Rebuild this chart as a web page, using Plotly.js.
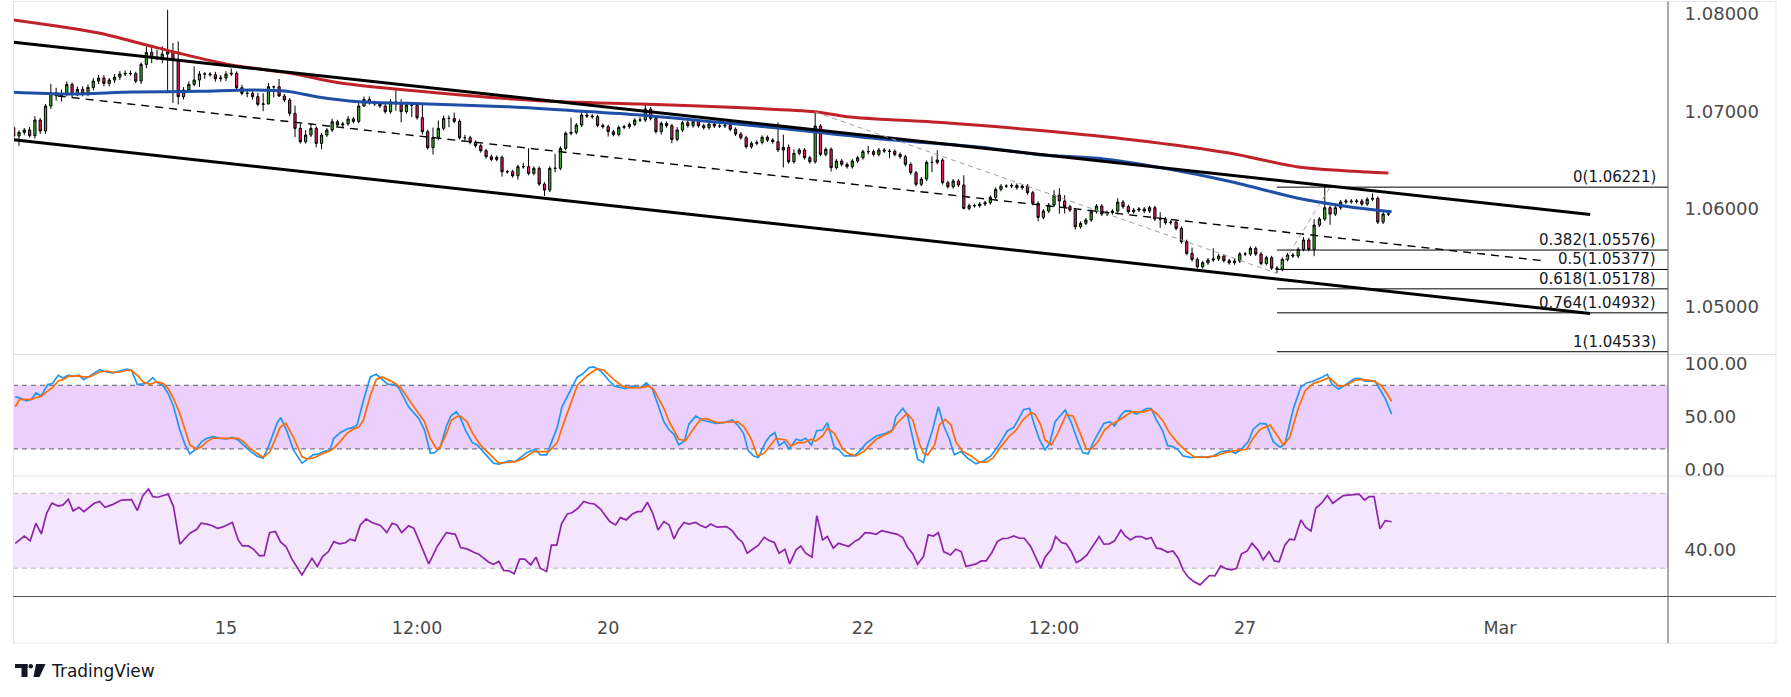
<!DOCTYPE html>
<html><head><meta charset="utf-8">
<script src="https://cdn.plot.ly/plotly-3.0.1.min.js"></script>
<style>html,body{margin:0;padding:0;background:#fff;}#chart{width:1791px;height:697px;}</style>
</head><body><div id="chart"></div>
<script>
// ---------------- DATA ----------------
// hourly EUR/USD candles, index 0 = "15" (Feb 15 00:00)
const firstIndex = -40;
const firstOpen = 1.06831;
const closes = [
1.06745,1.06783,1.06807,1.06749,1.06909,1.06797,1.07053,1.07190,1.07159,1.07183,
1.07275,1.07173,1.07224,1.07183,1.07244,1.07309,1.07340,1.07285,1.07320,1.07350,
1.07381,1.07388,1.07385,1.07309,1.07480,1.07603,1.07552,1.07552,1.07586,1.07610,
1.07525,1.07149,1.07217,1.07275,1.07320,1.07381,1.07381,1.07374,1.07333,1.07340,
1.07381,1.07388,1.07241,1.07183,1.07183,1.07149,1.07070,1.07074,1.07251,1.07251,
1.07156,1.07115,1.06978,1.06824,1.06687,1.06756,1.06824,1.06670,1.06756,1.06807,
1.06892,1.06858,1.06870,1.06920,1.06896,1.07053,1.07121,1.07087,1.07074,1.07053,
1.06995,1.07094,1.07074,1.06995,1.07063,1.07060,1.06933,1.06790,1.06626,1.06732,
1.06824,1.06926,1.06926,1.06896,1.06728,1.06728,1.06680,1.06646,1.06595,1.06533,
1.06506,1.06526,1.06379,1.06379,1.06338,1.06431,1.06431,1.06362,1.06414,1.06253,
1.06191,1.06414,1.06414,1.06619,1.06773,1.06783,1.06858,1.06961,1.06950,1.06944,
1.06855,1.06841,1.06790,1.06762,1.06834,1.06841,1.06865,1.06909,1.06909,1.07022,
1.06926,1.06790,1.06875,1.06851,1.06711,1.06807,1.06882,1.06851,1.06892,1.06851,
1.06831,1.06868,1.06848,1.06848,1.06855,1.06814,1.06766,1.06728,1.06636,1.06670,
1.06680,1.06732,1.06704,1.06687,1.06602,1.06629,1.06482,1.06568,1.06602,1.06523,
1.06482,1.06848,1.06557,1.06609,1.06421,1.06489,1.06455,1.06431,1.06489,1.06523,
1.06585,1.06585,1.06557,1.06602,1.06592,1.06588,1.06557,1.06533,1.06455,1.06369,
1.06250,1.06304,1.06475,1.06475,1.06499,1.06267,1.06226,1.06284,1.06243,1.06003,
1.06031,1.06031,1.06048,1.06062,1.06116,1.06198,1.06232,1.06232,1.06239,1.06215,
1.06232,1.06164,1.06055,1.05911,1.05976,1.06038,1.06140,1.06079,1.06021,1.05986,
1.05815,1.05850,1.05884,1.05969,1.06027,1.05945,1.05959,1.05976,1.06068,1.06021,
1.05969,1.05986,1.05997,1.05976,1.06010,1.05894,1.05894,1.05856,1.05863,1.05798,
1.05662,1.05542,1.05480,1.05405,1.05446,1.05474,1.05484,1.05515,1.05467,1.05446,
1.05463,1.05535,1.05535,1.05593,1.05535,1.05439,1.05497,1.05391,1.05378,1.05480,
1.05525,1.05515,1.05583,1.05679,1.05583,1.05832,1.05894,1.06010,1.05945,1.06010,
1.06068,1.06079,1.06072,1.06079,1.06048,1.06097,1.06106,1.05863,1.05945,1.05945];
// upper / lower wick length of each candle, in pips
const wickUp = [
3,2,2,3,4,2,2,9,5,4, 3,2,3,3,3,3,3,3,2,3, 3,3,3,2,2,6,6,8,8,43, 9,19,3,3,14,3,2,2,3,3,
3,5,2,3,3,4,4,11,4,1, 8,2,2,8,5,5,5,2,2,2, 3,2,2,3,2,3,3,3,2,2, 2,3,13,5,3,0,2,15,2,10,
8,3,3,6,2,3,2,2,2,2, 2,2,2,2,2,2,4,19,2,2, 2,2,15,2,2,15,2,3,2,2, 2,2,2,2,2,2,2,2,3,6,
2,2,2,2,2,3,2,2,2,2, 2,2,2,2,2,2,2,2,2,2, 2,2,2,2,20,13,3,4,2,2, 2,14,2,2,2,2,2,2,2,2,
2,6,2,2,2,2,2,2,2,2, 2,2,2,6,10,2,2,2,2,10, 2,2,2,2,2,2,2,2,2,2, 2,2,2,2,2,2,5,7,6,2,
2,2,2,2,2,2,2,2,4,2, 2,2,2,2,2,2,7,2,2,2, 2,2,6,2,2,2,11,2,2,2, 2,2,2,2,2,2,2,2,2,2,
2,2,2,3,2,6,2,21,2,2, 2,2,2,2,2,2,5,2,2,2];
const wickDn = [
3,10,3,2,3,3,3,3,5,6, 3,3,2,3,3,3,3,3,3,3, 3,2,2,2,3,4,6,3,6,40, 44,8,3,3,2,7,5,2,3,3,
3,2,2,2,4,3,2,7,0,11, 1,2,3,9,2,2,2,4,6,2, 2,2,2,2,2,2,1,2,2,2, 2,2,7,11,2,12,2,3,2,7,
3,2,9,2,2,3,2,2,2,2, 2,2,5,2,2,4,2,2,2,2, 6,2,4,2,2,2,2,2,2,2, 2,2,5,2,2,2,2,2,2,2,
2,2,3,2,4,2,2,2,2,2, 2,2,2,2,2,2,2,2,2,2, 2,2,2,2,2,18,2,2,2,2, 2,2,2,2,4,2,2,2,2,2,
2,3,2,2,2,7,2,2,2,2, 2,2,2,10,2,2,2,2,2,1, 2,2,2,2,2,2,2,2,2,2, 2,2,2,4,2,2,2,13,7,2,
3,2,2,2,2,2,2,2,2,2, 2,2,2,2,2,2,9,2,2,2, 2,2,2,2,2,2,2,2,2,2, 2,2,2,2,2,2,2,2,4,2,
2,2,2,2,2,7,2,2,11,2, 2,2,2,2,2,2,2,2,2,2];

// moving averages [index, price]
const ma200 = [[-40,1.07935],[-24,1.07802],[-15,1.07679],[-9,1.07597],[1,1.07474],[13,1.07382],[21,1.07295],[40,1.07187],[59,1.07108],[78,1.07074],[89,1.07053],[111,1.06995],[117,1.06944],[136,1.06879],[154,1.06800],[171,1.06705],[189,1.06571],[202,1.06428],[215,1.06376],[219,1.06366]];
const ma100 = [[-40,1.07194],[-30,1.07176],[-17.5,1.07197],[-5,1.07204],[4.5,1.07217],[11.5,1.07204],[17,1.07149],[25,1.07097],[34,1.07081],[53,1.07046],[65.5,1.07005],[78,1.06961],[89,1.06905],[104.5,1.06825],[123.4,1.06715],[142.3,1.06630],[153.6,1.06551],[164.3,1.06517],[176.8,1.06414],[189.4,1.06277],[202,1.06107],[211.5,1.06021],[219.6,1.05969]];

// channel lines [index, price]
const channelTop = [[-40,1.07707],[257,1.05940]];
const channelBottom = [[-40,1.06707],[257,1.04925]];
const channelMid = [[-31.7,1.07156],[248.5,1.05464]];
const swingPath = [[111,1.06992],[198,1.05337],[208,1.06221]];

// Fibonacci retracement
const fibStart = 198;
const fibLevels = ['0','0.382','0.5','0.618','0.764','1'];
const fibPrices = [1.06221,1.05576,1.05377,1.05178,1.04932,1.04533];

// Stochastic %K, %D  [index, value]
const stochK = [[-39.7,69.1],[-38.9,68.1],[-37.6,65.3],[-36.7,66.6],[-35.8,72.8],[-34.8,70],[-33.6,80.6],[-32.7,81.6],[-31.6,89.4],[-30.7,86.9],[-29.7,89.4],[-28.8,88.4],[-27.7,89.4],[-26.8,85.3],[-25.7,88.4],[-23.8,94.7],[-22.5,92.5],[-21.3,91.6],[-20,93.4],[-18.7,95.3],[-17.8,94.1],[-16.7,80.6],[-15,81.6],[-13.8,87.2],[-13.1,83.1],[-11.8,79.4],[-10.9,72.2],[-9.9,60.3],[-8.7,37.8],[-7.7,23.8],[-6.8,15.3],[-5.5,20.6],[-4.6,26.9],[-3.6,30],[-2.4,31.6],[-1.1,30],[0.1,29.4],[1.2,30.9],[2.3,28.4],[3.3,23.8],[4.5,18.1],[5.8,13.4],[7,11.3],[8,22.2],[9.6,44.1],[10.3,49.4],[11.4,37.8],[12.7,19.1],[14.3,6.6],[15.2,9.7],[16.4,14.4],[17.4,15.3],[18.4,17.5],[19.6,19.1],[20.3,30],[21.5,35.3],[22.8,38.8],[24,40.3],[24.7,42.5],[25.9,65.9],[27.2,87.8],[28.3,90.3],[29.4,85.3],[30.5,80.9],[31.6,80.9],[32.5,77.8],[34.4,59.7],[36.3,48.8],[37.4,37.8],[38.5,15.9],[39.4,16.6],[40.4,22.2],[41.6,42.5],[42.4,51.3],[43.4,55],
[44.2,48.8],[45.1,37.8],[46.4,25.9],[47.3,23.8],[48.9,14.4],[50.4,6.6],[51.4,5.6],[53.3,8.8],[54.5,8.1],[56.7,16.6],[58.3,19.7],[59.2,14.4],[60.4,14.4],[61.4,26.9],[62.4,40.3],[63.3,59.7],[64.6,72.2],[66.2,87.8],[67.1,90.3],[68.4,96.6],[69.3,97.2],[70.6,93.4],[72.1,84.7],[73.2,79.1],[75.3,76.9],[76.5,79.1],[78.1,77.8],[79.2,82.2],[80.3,76.9],[81.6,58.1],[82.5,45.6],[83.5,37.8],[84.4,33.8],[85.3,23.8],[86.4,27.8],[87.2,43.4],[88.5,50.9],[89.7,47.2],[91,45.6],[92.3,44.1],[93.8,44.7],[95.4,47.2],[96.4,42.5],[97.5,34.7],[98.4,18.4],[99.4,13.4],[100.3,11.9],[101.1,19.7],[101.7,26.9],[102.5,32.2],[103.4,35.3],[104.2,23.1],[105.2,26.9],[106.1,20],[107.4,29.1],[108.3,27.8],[109.2,30],[110.3,23.8],[111.3,37.2],[112.4,37.8],[113.3,44.7],[114.6,21.6],[115.5,19.1],[116.5,13.4],[118.4,13.4],[119.6,19.1],[120.6,25.3],[122.5,32.2],[124.3,34.7],[125.6,37.8],[126.2,50.3],[127.5,58.1],[128.4,51.9],[130.3,10.3],
[131.4,7.2],[132.2,23.8],[133.1,37.8],[134.2,59.7],[135.3,40.9],[136.3,29.1],[137.2,14.4],[138.5,17.5],[139.7,11.3],[141.3,5.9],[142.9,9.1],[144.1,13.4],[145.4,22.2],[147.2,36.9],[148.4,40.3],[149.2,47.2],[150.3,57.2],[151.4,58.1],[152.3,42.5],[153.3,28.4],[154.3,19.1],[155.2,25.3],[156.2,45.6],[157,50.3],[158.1,56.6],[159.2,45.6],[160.4,28.4],[161.4,16.6],[162.4,15.3],[163.6,28.4],[165.4,44.1],[166.5,45.6],[167.4,41.6],[168.6,51.9],[169.4,55.9],[170.4,55.6],[171.5,52.8],[172.4,55],[173.4,58.1],[174.3,58.1],[175.3,47.2],[176.4,37.8],[177.4,23.1],[178.4,22.2],[179.4,19.1],[180.3,13.4],[181.9,11.9],[183.8,12.8],[185,11.9],[186,13.4],[187.5,17.5],[189.1,18.4],[190.2,15.9],[191.3,19.7],[192.6,26.9],[193.5,38.4],[194.8,44.1],[196,43.4],[197.3,26.9],[198.6,21.6],[199.5,24.7],[201.1,58.1],[202.5,78.4],[203.6,82.2],[204.8,83.8],[206.4,87.2],[207.5,90.3],[208.4,80.9],[209.6,76.3],[210.8,80],[212.6,86.3],[213.7,86.3],[214.6,83.8],[216.5,83.8],[218.4,67.5],[219.6,52.8]];
const stochD = [[-39.7,59.7],[-38.9,66.6],[-37.6,66.6],[-36.7,66.6],[-35.7,68.4],[-34.8,69.7],[-33.8,73.8],[-32.7,77.8],[-31.6,84.1],[-30.7,85.3],[-29.7,88.4],[-27.7,88.8],[-26.8,87.8],[-25.7,87.8],[-23.8,92.5],[-22.5,93.4],[-21.3,92.2],[-20,92.5],[-18.7,94.1],[-17.8,94.1],[-16.7,89.4],[-15.6,83.1],[-14.3,80.9],[-13.1,83.1],[-11.8,81.6],[-10.9,76.9],[-9.9,67.5],[-8.7,53.4],[-7.7,37.8],[-6.8,23.8],[-5.5,19.7],[-4.6,22.2],[-3.6,26.9],[-2.4,30.3],[0.1,30],[2.3,30],[3.3,26.9],[4.5,20.6],[5.8,15.9],[7,12.2],[8.3,17.5],[10.2,40.3],[11.3,44.1],[12.7,30.9],[14.3,12.8],[15.2,10.6],[16.4,11.3],[17.4,13.8],[18.4,15.9],[19.6,18.4],[20.3,20.6],[21.5,26.9],[22.8,34.7],[24,38.8],[25,40.3],[25.9,47.2],[27.2,70.6],[28.3,85.3],[29.4,87.8],[30.5,85.3],[31.6,82.5],[32.8,78.4],[34.4,67.5],[36.3,53.4],[37.4,45.6],[38.5,30],[39.7,19.7],[40.4,22.2],[41.6,35.3],[42.4,46.6],[43.4,50.3],
[44.2,50.9],[45.4,45.6],[46.4,35.3],[47.9,23.8],[49.5,15.9],[51.4,6.6],[53,7.2],[54.5,8.1],[56.1,11.3],[58,17.5],[60.8,17.5],[62.4,25.9],[63.6,44.1],[64.9,62.8],[66.2,80],[68.1,89.4],[69.9,95.6],[71.2,94.1],[73.1,85.3],[74.7,79.1],[76.2,77.5],[78.1,77.8],[79.7,79.1],[80.6,75.9],[82.5,58.1],[83.5,45.6],[85.3,29.1],[86.6,27.8],[87.9,37.8],[89.4,47.8],[90.4,48.8],[92.6,44.7],[95.1,45.6],[96.4,45.6],[97.6,40.9],[98.9,30],[100.1,13.4],[101.4,15.9],[103.6,30],[105.5,28.4],[106.4,22.8],[107.7,25.9],[108.9,25.9],[110.2,29.1],[111.1,27.5],[112.4,32.2],[113.3,39.4],[114.6,34.7],[116.2,19.7],[117.4,15.3],[118.7,13.4],[120.3,18.1],[122.5,29.1],[125.3,36.3],[126.5,44.7],[128.3,53.4],[129.4,47.2],[130.6,25.3],
[131.4,15.9],[132.2,14.4],[133.5,23.8],[134.4,42.5],[135.5,47.8],[136.6,42.5],[137.5,26.9],[138.8,17.5],[140.4,13.4],[141.9,7.5],[143.2,7.5],[144.5,11.3],[146,22.2],[147.6,32.2],[148.9,37.8],[150.1,47.2],[151.7,54.4],[152.4,52.8],[153.5,42.5],[154.3,28.4],[155.5,23.8],[156.7,34.7],[158.3,52.5],[159.6,50.9],[160.8,36.3],[162.1,19.7],[163,19.7],[164.3,26.9],[165.5,37.8],[166.8,43.4],[168,46.3],[169.3,50.3],[170.6,55],[172.8,55],[174.3,57.2],[175.3,53.4],[176.5,46.6],[177.8,34.7],[179.4,25.3],[181,17.5],[182.5,12.2],[184.4,12.2],[186.6,13.4],[188.2,16.6],[190.1,18.4],[192.3,19.7],[193.5,30],[194.8,38.4],[196.7,42.5],[197.9,33.8],[199.2,23.8],[200.4,31],[202,58.1],[203.3,74.7],[204.8,81.6],[206.4,84.1],[207.8,87.2],[209.6,79.1],[211.1,80],[212.7,84.7],[213.9,85.6],[216.2,84.1],[217.6,80],[218.7,72.5],[219.6,64.7]];
// RSI [index, value]
const rsi = [[-39.7,43.3],[-38.9,45.1],[-38,47.2],[-36.9,44.6],[-35.8,54],[-34.8,48.3],[-33.8,59.3],[-32.8,64.7],[-31.6,63.2],[-30.7,63.8],[-29.7,66.8],[-28.8,60.6],[-27.7,62.5],[-26.8,60.2],[-24.8,64.7],[-23.8,65.6],[-22.8,62.5],[-21.3,64.1],[-19.7,66.4],[-17.8,66.6],[-16.7,60.8],[-15.7,68.6],[-14.6,72.3],[-13.8,68.2],[-12.8,67.9],[-10.9,69.6],[-9.9,62.9],[-8.7,42.8],[-7.7,46],[-6.8,48.7],[-5.5,50.8],[-4.7,54],[-3.6,53.5],[-2.7,52.8],[-1.6,51.3],[-0.7,51.9],[1.2,54.4],[2.3,45.1],[3.1,41.9],[4.2,41.9],[5.2,40.1],[6.3,36.6],[7.2,36.8],[8.2,49],[9.3,49.6],[10.3,43.9],[11.3,41.6],[12.4,35],[14.3,26.4],[16.2,35.3],[17.2,30.9],[18.2,36.2],[19.3,38.9],[20.3,44.2],[21.4,43],[22.5,43.6],[23.4,45.5],[24.3,44.6],[25.3,53.1],[26.4,56.3],[27.5,54.4],[29.1,52.8],[30.3,49],[31.3,54],[32.2,53.1],[33.1,49],[34.4,52.6],[35.4,51.3],[38.2,32.3],[39.8,41.6],[41.5,49],[43.2,48.1],
[44.2,41],[45.4,40.3],[46.7,38.5],[47.6,37.5],[49.5,33.2],[50.4,32.1],[51.4,33.6],[52.3,28.8],[53.3,28.6],[54.3,27],[55.3,34.8],[56.3,34.8],[57.4,31.8],[58.4,35.9],[59.2,30],[60.4,28.2],[61.3,42.3],[62.3,42.3],[63.2,53.6],[64.3,59],[65.2,59.6],[66.3,62],[67.4,65.6],[68.4,64.7],[69.4,64.3],[70.6,61.5],[72.3,54.9],[73.4,53.1],[74.3,57],[75.4,55.8],[76.5,58.8],[77.5,60.2],[78.3,60.2],[79.4,65.2],[80.4,59.3],[81.4,50.4],[82.5,54.9],[83.5,53.1],[84.4,45.6],[85.3,50.8],[86.3,54.4],[87.2,53.6],[88.5,54.4],[89.4,52.8],[90.4,51.7],[91.3,53.6],[92.5,51.9],[94.3,52.2],[95.4,49.9],[96.4,46],[97.3,43.9],[98.2,38],[100.3,42.3],[101.4,46.5],[102.3,44.8],[103.3,43.7],[104.2,38],[105.3,40.1],[106.2,32.3],[107.4,39.8],[108.3,41.9],[109.2,38],[110.4,35.9],[111.3,58.1],[112.4,45.1],[113.3,46.9],[114.4,40.7],[115.4,43.3],[117.3,41.6],[118.4,44.2],[119.3,45.6],[120.4,49],[121.5,48.7],[122.5,48.1],[123.5,50.1],[125.5,49],[126.5,48.1],[127.5,46.4],[128.4,41.2],[129.4,37.6],[130.3,32.1],
[130.9,34.4],[131.4,36.2],[132.3,47.8],[133.3,47.2],[134.2,49],[135.2,38.9],[136.5,37.1],[137.5,40.1],[138.5,38.9],[139.4,30.9],[141.3,32.3],[142.3,33.9],[143.2,33.9],[144.3,38.4],[145.3,44.2],[146.3,45.8],[147.3,46],[148.4,47.2],[149.5,46],[150.4,46],[151.6,41.6],[153.5,30],[154.3,35.9],[155.5,40.1],[156.3,46.9],[157.4,43.7],[158.3,43],[159.2,39.2],[160.2,33],[161.1,34.4],[162.2,37.1],[163.5,42.4],[164.5,46.9],[165.4,42.8],[166.4,43],[167.4,44.6],[168.6,50.4],[169.4,47.2],[170.4,45.1],[171.4,46.9],[172.4,46.9],[173.4,45.6],[174.3,46.4],[175.3,40.7],[176.2,40.3],[177.4,38.5],[178.4,39.2],[179.4,35.3],[180.3,29.1],[181.3,25.2],[182.2,23.2],[183.5,21.1],[184.4,23.4],[185.3,26.1],[186.3,25.9],[187.4,31.2],[188.5,29.6],[189.4,29.1],[190.4,30],[191.3,37.6],[192.4,39.2],[193.3,43.3],[194.5,39.4],[195.4,34.4],[196.5,38.9],[197.5,33.9],[198.4,33.4],[199.5,42.4],[200.4,45.5],[201.3,45.1],[202.5,55.8],[203.4,51.9],[204.4,49.9],[205.3,62],[206.4,64.7],[207.5,68.8],[208.5,64.7],[210.5,68.8],[213.5,69.5],[214.5,66.4],[215.4,68.2],[216.3,68.2],[217.4,51],[218.4,55.4],[219.6,54.8]];

// axis ticks
const xTickVals = [0,36,72,120,156,192,240];
const xTickText = ['15','12:00','20','22','12:00','27','Mar'];
const priceTicks = [1.05,1.06,1.07,1.08];
const priceTickText = ['1.05000','1.06000','1.07000','1.08000'];
const stochTicks = [0,50,100];
const stochTickText = ['0.00','50.00','100.00'];
const rsiTicks = [40];
const rsiTickText = ['40.00'];
const stochBand = [20,80];
const rsiBand = [30,70];

// ---------------- BUILD ----------------
const X0 = -40.13, X1 = 271.67;
const idx = closes.map((c,i)=>firstIndex+i);
const opens = closes.map((c,i)=> i===0 ? firstOpen : closes[i-1]);
const highs = closes.map((c,i)=> Math.max(opens[i],c) + wickUp[i]*1e-4);
const lows  = closes.map((c,i)=> Math.min(opens[i],c) - wickDn[i]*1e-4);
const col = (a,k)=>a.map(p=>p[k]);

// pixel -> paper helpers (plot area: x 13..1668, y 2..596)
const PX = x => (x-13)/1655;
const PY = y => (596-y)/594;

const FONT = 'DejaVu Sans';
const traces = [
  {type:'candlestick', x:idx, open:opens, high:highs, low:lows, close:closes,
   xaxis:'x', yaxis:'y', hoverinfo:'skip', whiskerwidth:0,
   increasing:{line:{color:'#000000',width:1}, fillcolor:'#3FAF2B'},
   decreasing:{line:{color:'#000000',width:1}, fillcolor:'#E91E63'}, showlegend:false},
  {type:'scatter', mode:'lines', x:col(ma200,0), y:col(ma200,1), yaxis:'y',
   line:{color:'#C0222A', width:3, shape:'spline', smoothing:0.8}, hoverinfo:'skip', showlegend:false},
  {type:'scatter', mode:'lines', x:col(ma100,0), y:col(ma100,1), yaxis:'y',
   line:{color:'#1E4FA6', width:3, shape:'spline', smoothing:0.8}, hoverinfo:'skip', showlegend:false},
  {type:'scatter', mode:'lines', x:col(channelTop,0), y:col(channelTop,1), yaxis:'y',
   line:{color:'#000000', width:3}, hoverinfo:'skip', showlegend:false},
  {type:'scatter', mode:'lines', x:col(channelBottom,0), y:col(channelBottom,1), yaxis:'y',
   line:{color:'#000000', width:3}, hoverinfo:'skip', showlegend:false},
  {type:'scatter', mode:'lines', x:col(channelMid,0), y:col(channelMid,1), yaxis:'y',
   line:{color:'#000000', width:1.4, dash:'8px,6px'}, hoverinfo:'skip', showlegend:false},
  {type:'scatter', mode:'lines', x:col(swingPath,0), y:col(swingPath,1), yaxis:'y',
   line:{color:'#A0A0A0', width:1, dash:'5px,4px'}, hoverinfo:'skip', showlegend:false},
  {type:'scatter', mode:'lines', x:col(stochK,0), y:col(stochK,1), yaxis:'y2',
   line:{color:'#2196F3', width:1.7}, hoverinfo:'skip', showlegend:false},
  {type:'scatter', mode:'lines', x:col(stochD,0), y:col(stochD,1), yaxis:'y2',
   line:{color:'#FF6D00', width:1.7}, hoverinfo:'skip', showlegend:false},
  {type:'scatter', mode:'lines', x:col(rsi,0), y:col(rsi,1), yaxis:'y3',
   line:{color:'#8E24AA', width:1.7}, hoverinfo:'skip', showlegend:false}
];

const shapes = [];
// indicator bands
shapes.push({type:'rect', xref:'paper', yref:'y2', x0:0, x1:1, y0:stochBand[0], y1:stochBand[1], fillcolor:'#EBCFFD', line:{width:0}, layer:'below'});
stochBand.forEach(v=>shapes.push({type:'line', xref:'paper', yref:'y2', x0:0, x1:1, y0:v, y1:v, line:{color:'#5D606B', width:1, dash:'5px,4px'}, layer:'below'}));
shapes.push({type:'rect', xref:'paper', yref:'y3', x0:0, x1:1, y0:rsiBand[0], y1:rsiBand[1], fillcolor:'#F4E7FD', line:{width:0}, layer:'below'});
rsiBand.forEach(v=>shapes.push({type:'line', xref:'paper', yref:'y3', x0:0, x1:1, y0:v, y1:v, line:{color:'#B6B8C0', width:1, dash:'5px,4px'}, layer:'below'}));
// fib lines
fibPrices.forEach(v=>shapes.push({type:'line', xref:'x', yref:'y', x0:fibStart, x1:X1, y0:v, y1:v, line:{color:'#000000', width:1}}));
// frame / separators
const light = '#E3E6EC', dark = '#555555';
shapes.push({type:'line', xref:'paper', yref:'paper', x0:0, x1:PX(1776), y0:PY(1.5), y1:PY(1.5), line:{color:light,width:1}});
shapes.push({type:'line', xref:'paper', yref:'paper', x0:PX(13.5), x1:PX(13.5), y0:PY(1.5), y1:PY(643), line:{color:light,width:1}});
shapes.push({type:'line', xref:'paper', yref:'paper', x0:PX(1776), x1:PX(1776), y0:PY(1.5), y1:PY(643), line:{color:light,width:1}});
shapes.push({type:'line', xref:'paper', yref:'paper', x0:0, x1:PX(1776), y0:PY(643), y1:PY(643), line:{color:light,width:1}});
shapes.push({type:'line', xref:'paper', yref:'paper', x0:0, x1:PX(1776), y0:PY(354.5), y1:PY(354.5), line:{color:'#E0E3EB',width:1}});
shapes.push({type:'line', xref:'paper', yref:'paper', x0:0, x1:PX(1776), y0:PY(476), y1:PY(476), line:{color:'#E0E3EB',width:1}});
shapes.push({type:'line', xref:'paper', yref:'paper', x0:0, x1:PX(1776), y0:PY(596.5), y1:PY(596.5), line:{color:dark,width:1}});
shapes.push({type:'line', xref:'paper', yref:'paper', x0:PX(1668), x1:PX(1668), y0:PY(1.5), y1:PY(643), line:{color:dark,width:1}});
// TradingView logo mark
const logo = '#131722';
shapes.push({type:'rect', xref:'paper', yref:'paper', x0:PX(15), x1:PX(27.5), y0:PY(668), y1:PY(664), fillcolor:logo, line:{width:0}});
shapes.push({type:'rect', xref:'paper', yref:'paper', x0:PX(21.5), x1:PX(27.5), y0:PY(677), y1:PY(664), fillcolor:logo, line:{width:0}});
shapes.push({type:'circle', xref:'paper', yref:'paper', x0:PX(28.5), x1:PX(33), y0:PY(668.5), y1:PY(664), fillcolor:logo, line:{width:0}});
shapes.push({type:'path', xref:'paper', yref:'paper',
  path:`M ${PX(36)} ${PY(664)} L ${PX(45.5)} ${PY(664)} L ${PX(39.5)} ${PY(677)} L ${PX(33.5)} ${PY(677)} Z`, fillcolor:logo, line:{width:0}});

const annotations = fibLevels.map((l,i)=>({
  xref:'paper', yref:'y', x:PX(1657), y:fibPrices[i], xanchor:'right', yanchor:'bottom',
  text:`${l}(${fibPrices[i].toFixed(5)})`, showarrow:false, borderpad:0,
  font:{family:FONT, size:15, color:'#131722'}}));
annotations.push({xref:'paper', yref:'paper', x:PX(49), y:PY(670.5), xanchor:'left', yanchor:'middle',
  text:'TradingView', showarrow:false, font:{family:FONT, size:17, color:'#131722'}});

const yCommon = {side:'right', anchor:'x', showgrid:false, zeroline:false, showline:false,
  ticks:'outside', ticklen:12, tickcolor:'rgba(0,0,0,0)', tickfont:{family:FONT, size:18, color:'#4A4A4A'}, fixedrange:true};

const layout = {
  width:1791, height:697, margin:{l:13, r:123, t:2, b:101},
  paper_bgcolor:'#FFFFFF', plot_bgcolor:'#FFFFFF', showlegend:false, hovermode:false,
  font:{family:FONT, color:'#4A4A4A'}, boxgap:0.4,
  xaxis:{range:[X0,X1], anchor:'y3', showgrid:false, zeroline:false, showline:false,
    tickvals:xTickVals, ticktext:xTickText, ticks:'outside', ticklen:16, tickcolor:'rgba(0,0,0,0)',
    tickfont:{family:FONT, size:17.5, color:'#4A4A4A'}, rangeslider:{visible:false}, fixedrange:true},
  yaxis:Object.assign({}, yCommon, {domain:[PY(355),1], range:[1.044995,1.0812], tickvals:priceTicks, ticktext:priceTickText}),
  yaxis2:Object.assign({}, yCommon, {domain:[PY(476),PY(355)], range:[-5.5,108.5], tickvals:stochTicks, ticktext:stochTickText}),
  yaxis3:Object.assign({}, yCommon, {domain:[0,PY(476)], range:[15.15,79.24], tickvals:rsiTicks, ticktext:rsiTickText}),
  shapes:shapes, annotations:annotations
};

Plotly.newPlot('chart', traces, layout, {staticPlot:true, displayModeBar:false});
</script></body></html>
